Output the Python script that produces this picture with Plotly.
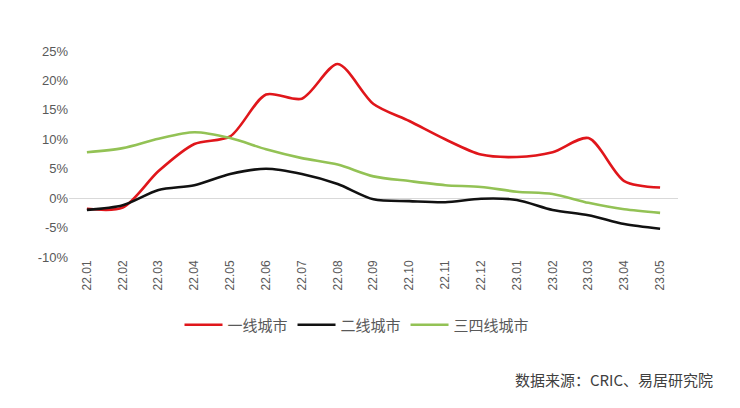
import plotly.graph_objects as go

months = ["22.01","22.02","22.03","22.04","22.05","22.06","22.07","22.08","22.09",
          "22.10","22.11","22.12","23.01","23.02","23.03","23.04","23.05"]
tier1 = [-1.8, -1.6, 4.6, 9.2, 10.5, 17.6, 16.9, 22.8, 16.0, 13.1, 10.0, 7.4, 7.0, 7.8, 10.2, 2.9, 1.8]
tier2 = [-2.0, -1.2, 1.4, 2.2, 4.1, 5.0, 4.1, 2.4, -0.2, -0.5, -0.7, -0.1, -0.3, -2.0, -2.9, -4.4, -5.2]
tier34 = [7.8, 8.5, 10.1, 11.2, 10.2, 8.3, 6.8, 5.7, 3.7, 2.9, 2.2, 1.9, 1.1, 0.7, -0.8, -1.9, -2.5]
names = ["一线城市", "二线城市", "三四线城市"]
colors = ["#E0161B", "#111111", "#93C255"]
yticks = [-10, -5, 0, 5, 10, 15, 20, 25]

fig = go.Figure()
for name, vals, c in zip(names, [tier1, tier2, tier34], colors):
    fig.add_trace(go.Scatter(x=months, y=vals, name=name, mode="lines",
                             line=dict(color=c, width=2.6, shape="spline", smoothing=0.8)))

fig.update_layout(
    width=740, height=408,
    margin=dict(l=61, r=70, t=43, b=159, autoexpand=False),
    paper_bgcolor="white", plot_bgcolor="white",
    font=dict(family="Noto Sans CJK SC, Liberation Sans, sans-serif", color="#595959"),
    showlegend=True,
    legend=dict(orientation="h", x=349 / 740, xanchor="center", xref="container",
                y=(408 - 317) / 408, yanchor="middle", yref="container",
                font=dict(size=15, color="#595959"), itemwidth=38, tracegroupgap=0),
    xaxis=dict(type="category", tickangle=-90, showgrid=False, showline=False, ticks="",
               automargin=False,
               tickfont=dict(size=12, family="Liberation Sans, sans-serif", color="#595959"),
               range=[-0.5, 16.5]),
    yaxis=dict(range=[-10, 25], tickvals=yticks, ticktext=[f"{v}%" for v in yticks],
               showgrid=False, zeroline=True, zerolinecolor="#D9D9D9", zerolinewidth=1,
               showline=False, ticks="", automargin=False,
               tickfont=dict(size=13, family="Liberation Sans, sans-serif", color="#595959")),
    annotations=[dict(text="数据来源：CRIC、易居研究院", xref="paper", yref="paper",
                      x=(707 - 61) / 609, y=-(371 - 249) / 206, xanchor="right",
                      yanchor="middle", showarrow=False,
                      font=dict(size=15, color="#404040",
                                family="Noto Sans CJK SC, sans-serif"))],
)
fig.write_html("out.html")
